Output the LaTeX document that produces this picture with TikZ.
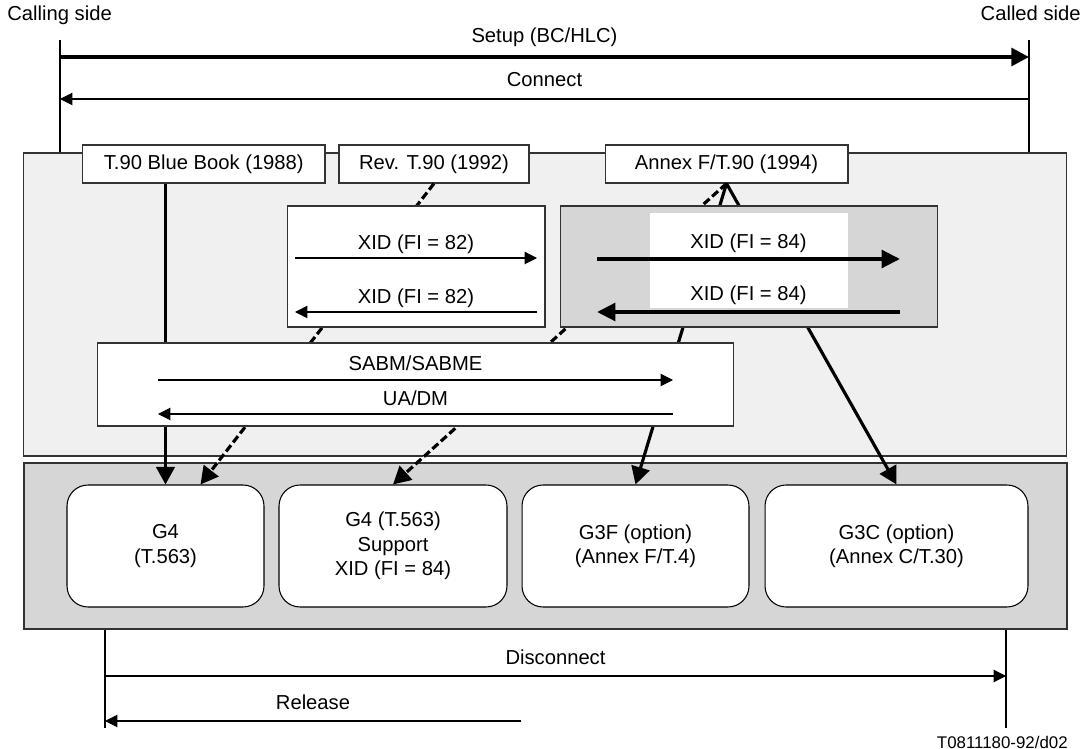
\documentclass[tikz,border=0pt]{standalone}
\usepackage{fontspec}
\setmainfont{Liberation Sans}
\usetikzlibrary{arrows.meta,calc}

\definecolor{lightbg}{gray}{0.94}
\definecolor{darkbg}{gray}{0.84}
\definecolor{edgec}{gray}{0.2}

\tikzset{
  lbl/.style={font=\fontsize{11.5}{13.6}\selectfont, inner sep=0pt, text height=8.3pt, text depth=2.4pt},
  panel/.style={draw=edgec, line width=0.7pt, inner sep=0pt},
  tab/.style={draw=edgec, fill=white, line width=0.6pt, inner sep=0pt, minimum height=0.76cm, font=\fontsize{11.5}{13.6}\selectfont},
  msgbox/.style={draw=edgec, fill=white, line width=0.6pt, inner sep=0pt},
  gbox/.style={draw=black, fill=white, line width=0.6pt, rounded corners=0.42cm, minimum height=2.44cm, align=center, inner sep=0pt, font=\fontsize{11.5}{13.8}\selectfont},
  msgarrow/.style={line width=0.6pt, -{Triangle[length=7pt,width=7pt]}},
  bigarrow/.style={line width=2.3pt, -{Triangle[length=10.5pt,width=10pt]}},
  link/.style={line width=1.8pt, -{Triangle[length=10pt,width=10.5pt]}},
  dashlink/.style={link, dash pattern=on 4.5pt off 2pt, preaction={draw=white, solid}},
}

\begin{document}
\begin{tikzpicture}[x=0.02cm, y=-0.02cm]

\useasboundingbox (0,0) rectangle (1086,749);

% Sides
\node[lbl, anchor=west] (calling) at (7,15) {Calling side};
\node[lbl, anchor=east] (called) at (1081,15) {Called side};
\coordinate (callA) at (60,40);
\coordinate (calledA) at (1029,40);

% Panels
\node[panel, fill=lightbg, minimum width=20.86cm, minimum height=6.06cm] (upper) at (545,304.5) {};
\node[panel, fill=darkbg, minimum width=20.86cm, minimum height=3.32cm] (lower) at (545.5,546) {};

\draw[line width=0.6pt] (callA) -- (callA |- upper.north);
\draw[line width=0.6pt] (calledA) -- (calledA |- upper.north);

% Call setup
\draw[line width=2.2pt, -{Triangle[length=10pt,width=10pt]}] ($(callA)+(0,17)$) -- ($(calledA)+(0,17)$)
  node[lbl, midway, above=5pt] {Setup (BC/HLC)};
\draw[msgarrow] ($(calledA)+(0,59)$) -- ($(callA)+(0,59)$)
  node[lbl, midway, above=4.3pt] {Connect};

% Versions
\node[tab, minimum width=4.85cm] (bb) at (203.75,164) {T.90 Blue Book (1988)};
\node[tab, minimum width=3.8cm] (rev) at (434,164) {Rev. T.90 (1992)};
\node[tab, minimum width=4.86cm] (anx) at (726.5,164) {Annex F/T.90 (1994)};

% Terminal types
\node[gbox, minimum width=3.94cm] (g1) at (165.5,546) {G4\\(T.563)};
\node[gbox, minimum width=4.56cm] (g2) at (393,546) {G4 (T.563)\\Support\\XID (FI = 84)};
\node[gbox, minimum width=4.54cm] (g3) at (635.5,546) {G3F (option)\\(Annex F/T.4)};
\node[gbox, minimum width=5.26cm] (g4) at (896.5,546) {G3C (option)\\(Annex C/T.30)};

% Links
\draw[link] (bb.south -| g1.north) -- (g1.north);
\draw[dashlink] (rev.south) -- ($(g1.north)+(35,0)$);
\draw[dashlink] (anx.south) -- (g2.north);
\draw[link] (anx.south) -- (g3.north);
\draw[link] (anx.south) -- (g4.north);

% XID exchange (FI = 82)
\node[msgbox, minimum width=5.16cm, minimum height=2.42cm] (xa) at (416,266.5) {};
\coordinate (xaL) at (295,258);
\coordinate (xaR) at (537,258);
\draw[msgarrow] (xaL) -- (xaR) node[lbl, midway, above=2.3pt] {XID (FI = 82)};
\draw[msgarrow] ($(xaR)+(0,54)$) -- ($(xaL)+(0,54)$) node[lbl, midway, above=2.3pt] {XID (FI = 82)};

% XID exchange (FI = 84)
\node[msgbox, fill=darkbg, minimum width=7.56cm, minimum height=2.42cm] (xb) at (749,266.5) {};
\node[fill=white, inner sep=0pt, minimum width=3.96cm, minimum height=1.9cm] (xbin) at (749,260.5) {};
\coordinate (xbL) at (597,259);
\coordinate (xbR) at (900,259);
\draw[bigarrow] (xbL) -- (xbR) node[lbl, midway, above=2.3pt] {XID (FI = 84)};
\draw[bigarrow] ($(xbR)+(0,53)$) -- ($(xbL)+(0,53)$) node[lbl, midway, above=3pt] {XID (FI = 84)};

% SABM exchange
\node[msgbox, minimum width=12.74cm, minimum height=1.66cm] (sabm) at (415.5,384.5) {};
\coordinate (sbL) at (158,380);
\coordinate (sbR) at (673,380);
\draw[msgarrow] (sbL) -- (sbR) node[lbl, midway, above=2.6pt] {SABM/SABME};
\draw[msgarrow] ($(sbR)+(0,34)$) -- ($(sbL)+(0,34)$) node[lbl, midway, above=2.3pt] {UA/DM};

% Release
\coordinate (callB) at (105,728);
\coordinate (calledB) at (1006,728);
\draw[line width=0.6pt] (callB) -- (callB |- lower.south);
\draw[line width=0.6pt] (calledB) -- (calledB |- lower.south);
\draw[msgarrow] ($(callB)+(0,-52)$) -- ($(calledB)+(0,-52)$)
  node[lbl, midway, above=3.7pt] {Disconnect};
\draw[msgarrow] ($(callB)+(416,-7)$) -- ($(callB)+(0,-7)$)
  node[lbl, midway, above=3.7pt] {Release};

\node[anchor=east, inner sep=0pt, font=\fontsize{9.6}{11}\selectfont] (code) at (1068,742) {T0811180-92/d02};

\end{tikzpicture}
\end{document}
